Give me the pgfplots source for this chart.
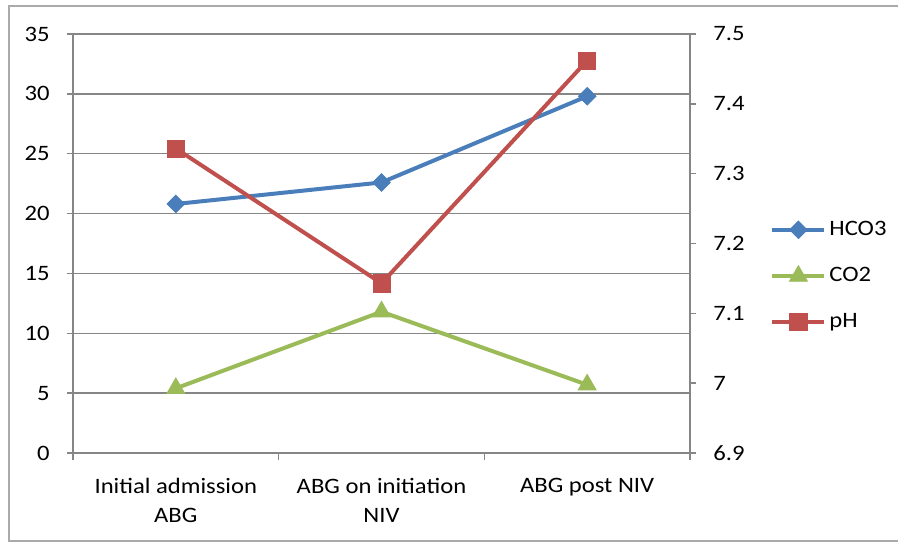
\documentclass[border=0pt]{standalone}
\usepackage{fontspec}
\setmainfont{Carlito}[FakeStretch=1.12]
\usepackage{pgfplots}
\pgfplotsset{compat=1.18}
\definecolor{axgray}{RGB}{134,134,134}
\definecolor{frgray}{RGB}{170,170,170}
\definecolor{hcoblue}{RGB}{74,126,187}
\definecolor{cogreen}{RGB}{155,187,89}
\definecolor{phred}{RGB}{192,80,77}
\pgfplotsset{
  /pgf/number format/assume math mode=true,
  mystyle/.style={
    at={(36.5pt,45.5pt)}, anchor=south west, scale only axis,
    width=308.5pt, height=209.5pt,
    xmin=-0.5, xmax=2.5, clip=false,
    font=\fontsize{11}{14.5}\selectfont,
    axis line style={axgray, line width=0.75pt},
    tick align=outside, major tick length=3pt,
    tick style={axgray, line width=0.75pt},
  },
  hcostyle/.style={hcoblue, line width=2pt, mark=square*, mark size=3.1pt, mark options={solid, line width=0.4pt, rotate=45}},
  costyle/.style={cogreen, line width=2pt, mark=triangle*, mark size=5.2pt, mark options={solid, line width=0.4pt}},
  phstyle/.style={phred, line width=2pt, mark=square*, mark size=4.3pt, mark options={solid, line width=0.4pt}},
}
\begin{document}
\begin{tikzpicture}[x=1pt,y=1pt]
\useasboundingbox (0,0) rectangle (449,272);
\fill[white] (0,0) rectangle (449,272);
\draw[frgray, line width=0.75pt] (4.5,1.5) rectangle (470,269);
\begin{axis}[mystyle,
  ymin=0, ymax=35,
  axis x line*=bottom, axis y line*=left,
  ytick={0,5,10,15,20,25,30,35},
  xtick={0,1,2},
  xticklabels={{Initial admission\\ABG},{ABG on initiation\\NIV},{ABG post NIV}},
  xticklabel style={align=center, anchor=north, inner sep=0pt, yshift=-9.5pt},
  x tick style={draw=none},
  extra x ticks={-0.5,0.5,1.5,2.5}, extra x tick labels={},
  extra x tick style={x tick style={draw=axgray}, major tick length=3.5pt},
  ymajorgrids, major grid style={axgray, line width=0.75pt},
  yticklabel style={anchor=east, inner sep=0pt, xshift=-8.5pt},
]
\addplot[hcostyle] coordinates {(0,20.8) (1,22.6) (2,29.8)};
\addplot[costyle] coordinates {(0,5.4) (1,11.8) (2,5.7)};
\end{axis}
\begin{axis}[mystyle,
  ymin=6.9, ymax=7.5,
  axis y line*=right, axis x line=none,
  ytick={6.9,7.0,7.1,7.2,7.3,7.4,7.5},
  yticklabels={6.9,7,7.1,7.2,7.3,7.4,7.5},
  yticklabel style={anchor=west, inner sep=0pt, xshift=8.5pt},
  legend style={at={(rel axis cs:1.1297,0.4224)}, anchor=west, draw=none, fill=none, inner sep=0pt,
    row sep=11.5pt, nodes={inner sep=1.5pt}, font=\fontsize{11}{14.5}\selectfont},
  legend cell align=left,
  legend image code/.code={\draw[mark repeat=2,mark phase=2,#1] plot coordinates {(0pt,0pt) (13pt,0pt) (26pt,0pt)};},
]
\addlegendimage{hcostyle}
\addlegendentry{HCO3}
\addlegendimage{costyle}
\addlegendentry{CO2}
\addplot[phstyle] coordinates {(0,7.336) (1,7.143) (2,7.462)};
\addlegendentry{pH}
\end{axis}
\end{tikzpicture}
\end{document}
